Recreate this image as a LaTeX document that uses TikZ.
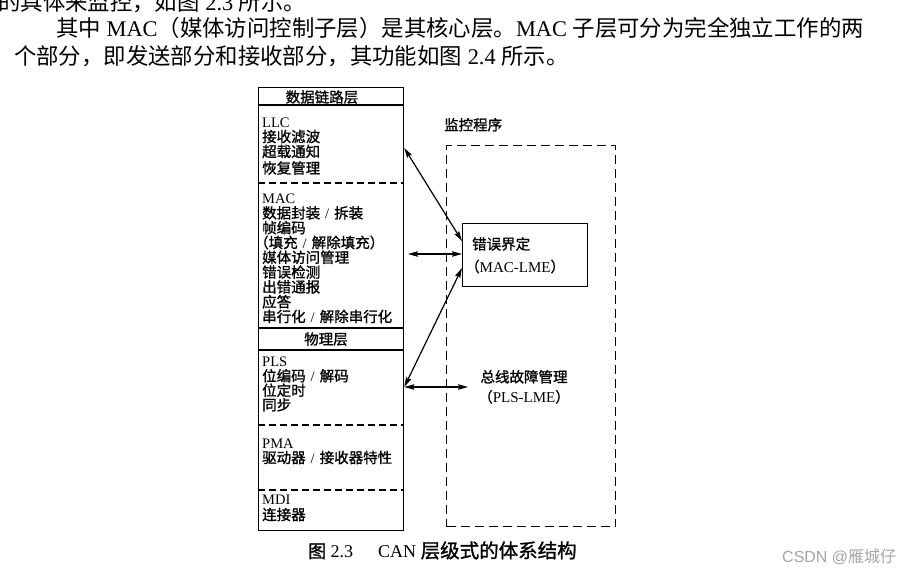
\documentclass[tikz,border=0pt]{standalone}
\usepackage{fontspec}
\setmainfont{Liberation Serif}
\newfontfamily\cjk{Noto Sans CJK SC}
\newfontfamily\cjkd[FakeBold=1.2]{Noto Sans CJK SC}
\newfontfamily\wmsans{Liberation Sans}
\usetikzlibrary{arrows.meta}
\definecolor{wmgray}{HTML}{A6A6A6}
\newcommand{\zh}[1]{{\cjk #1}}
\newcommand{\zb}[1]{{\cjkd #1}}
\newcommand{\sls}{\hspace{5pt}/\hspace{5pt}}
\begin{document}
\begin{tikzpicture}[x=1pt,y=-1pt,
  box/.style={draw=black, line width=1.3pt, inner sep=0pt},
  sep/.style={line width=1.2pt, dash pattern=on 7pt off 4pt},
  monline/.style={draw=black, line width=1.2pt, dash pattern=on 9pt off 5pt, inner sep=0pt},
  lt/.style={anchor=base west, inner sep=0pt, font=\fontsize{14.5}{15}\selectfont},
  ctr/.style={anchor=base, inner sep=0pt, font=\fontsize{14.5}{15}\selectfont},
  body/.style={anchor=base west, inner sep=0pt, font=\fontsize{22.4}{26}\selectfont},
  link/.style={line width=1.2pt, {Stealth[length=10pt,width=5.5pt,inset=1.5pt]}-{Stealth[length=10pt,width=5.5pt,inset=1.5pt]}},
]
\useasboundingbox (0,0) rectangle (903,576);
\clip (0,0) rectangle (903,576);
\fill[white] (0,0) rectangle (903,576);

% body text
\node[body] (t1) at (-2,10) {\zh{的具体来监控，如图} 2.3 \zh{所示。}};
\node[body] (t2) at (56,36) {\zh{其中} MAC\zh{（媒体访问控制子层）是其核心层。}MAC \zh{子层可分为完全独立工作的两}};
\node[body] (t3) at (14,64) {\zh{个部分，即发送部分和接收部分，其功能如图} 2.4 \zh{所示。}};

% left stack
\node[box, minimum width=145pt, minimum height=443pt, anchor=north west] (stack) at (258,87) {};
\draw[line width=1.3pt] (stack.north west |- 0,105) -- (stack.north east |- 0,105);
\draw[sep] (stack.north west |- 0,183) -- (stack.north east |- 0,183);
\draw[line width=1.3pt] (stack.north west |- 0,328) -- (stack.north east |- 0,328);
\draw[line width=1.3pt] (stack.north west |- 0,350) -- (stack.north east |- 0,350);
\draw[sep] (stack.north west |- 0,425) -- (stack.north east |- 0,425);
\draw[sep] (stack.north west |- 0,490) -- (stack.north east |- 0,490);

\node[ctr] (h1) at (322,102.5) {\zb{数据链路层}};
\node[lt] (l1) at (262,127) {LLC};
\node[lt] (l2) at (262,142) {\zb{接收滤波}};
\node[lt] (l3) at (262,157) {\zb{超载通知}};
\node[lt] (l4) at (262,173.5) {\zb{恢复管理}};

\node[lt] (m1) at (262,203.6) {MAC};
\node[lt] (m2) at (262,218.4) {\zb{数据封装}\sls\zb{拆装}};
\node[lt] (m3) at (262,233.2) {\zb{帧编码}};
\node[lt] (m4) at (254,248) {\zb{（填充}\sls\zb{解除填充）}};
\node[lt] (m5) at (262,262.8) {\zb{媒体访问管理}};
\node[lt] (m6) at (262,277.6) {\zb{错误检测}};
\node[lt] (m7) at (262,292.4) {\zb{出错通报}};
\node[lt] (m8) at (262,307.2) {\zb{应答}};
\node[lt] (m9) at (262,322) {\zb{串行化}\sls\zb{解除串行化}};

\node[ctr] (h2) at (326,344.5) {\zb{物理层}};
\node[lt] (p1) at (262,366.8) {PLS};
\node[lt] (p2) at (262,381.3) {\zb{位编码}\sls\zb{解码}};
\node[lt] (p3) at (262,395.8) {\zb{位定时}};
\node[lt] (p4) at (262,410.3) {\zb{同步}};
\node[lt] (p5) at (262,448.5) {PMA};
\node[lt] (p6) at (262,463) {\zb{驱动器}\sls\zb{接收器特性}};
\node[lt] (p7) at (262,504) {MDI};
\node[lt] (p8) at (262,520) {\zb{连接器}};

% monitor
\node[lt] (montitle) at (444,130.3) {\zb{监控程序}};
\node[monline, minimum width=169pt, minimum height=381pt, anchor=north west] (monbox) at (446,145) {};
\node[box, fill=white, minimum width=125pt, minimum height=63pt, anchor=north west] (err) at (462,223) {};
\node[lt] (e1) at (472,249.5) {\zb{错误界定}};
\node[lt] (e2) at (465,272) {\zb{（}{\fontsize{15}{15}\selectfont MAC-LME}\zb{）}};
\node[ctr] (b1) at (524,382.3) {\zb{总线故障管理}};
\node[ctr] (b2) at (524,402.3) {\zb{（}{\fontsize{15}{15}\selectfont PLS-LME}\zb{）}};

% connectors
\coordinate (llcR) at (stack.east |- 0,148);
\coordinate (macR) at (408,254);
\coordinate (plsR) at (stack.east |- 0,387);
\coordinate (errA) at (err.west |- 0,241);
\coordinate (errB) at (err.west |- 0,254);
\coordinate (errC) at (err.west |- 0,268);
\coordinate (busL) at (468,387);
\draw[link] (llcR) -- (errA);
\draw[link] (macR) -- (errB);
\draw[link] (errC) -- (plsR);
\draw[link] (plsR) -- (busL);

% caption and watermark
\node[anchor=base west, inner sep=0pt, font=\fontsize{18}{20}\selectfont] (cap) at (308,557.8)
  {\zb{图} 2.3\hspace{25pt}CAN {\fontsize{19.5}{20}\selectfont\zb{层级式的体系结构}}};
\node[anchor=base west, inner sep=0pt, text=wmgray, font=\fontsize{16}{18}\selectfont] (wm) at (782,562)
  {\wmsans CSDN @\zh{雁城仔}};
\end{tikzpicture}
\end{document}
